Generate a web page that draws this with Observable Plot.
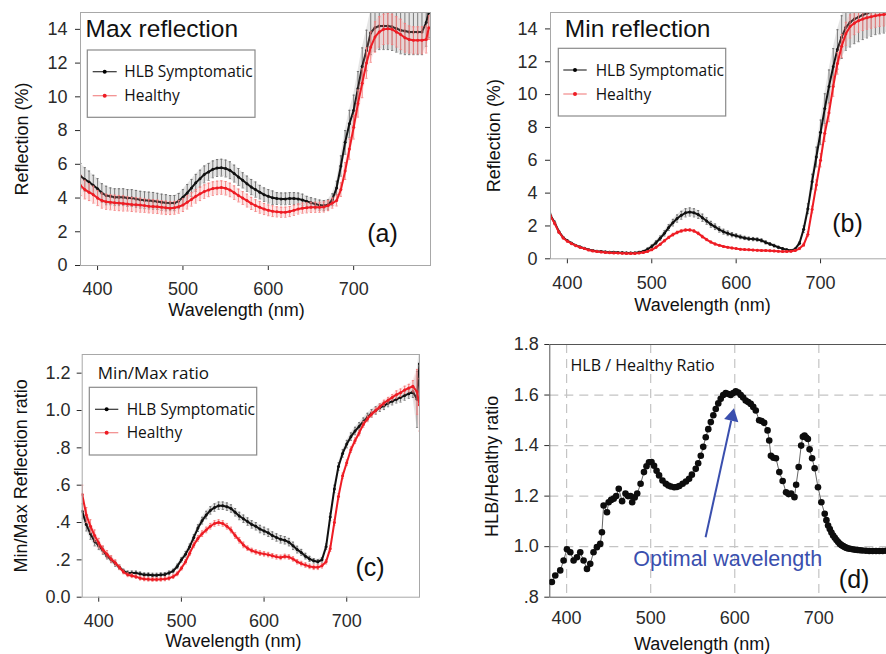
<!DOCTYPE html>
<html><head><meta charset="utf-8">
<script src="https://cdn.jsdelivr.net/npm/d3@7"></script>
<script src="https://cdn.jsdelivr.net/npm/@observablehq/plot@0.6"></script>
<style>
body{margin:0;background:#fff;}
#wrap{position:relative;width:886px;height:654px;overflow:hidden;background:#fff;}
</style></head><body><div id="wrap"></div>
<script>
// ---------------- DATA ----------------
const seriesNames = ["HLB Symptomatic", "Healthy"];
const xTickValues = [400, 500, 600, 700];
const reflTickValues = [0, 2, 4, 6, 8, 10, 12, 14];
const ratioTickValues = [0, 0.2, 0.4, 0.6, 0.8, 1.0, 1.2];
const ratioTickLabels = ["0.0", ".2", ".4", ".6", ".8", "1.0", "1.2"];
const dTickValues = [0.8, 1.0, 1.2, 1.4, 1.6, 1.8];
const dTickLabels = [".8", "1.0", "1.2", "1.4", "1.6", "1.8"];

const wavelengths = [
 380,385,390,395,400,405,410,415,420,425,
 430,435,440,445,450,455,460,465,470,475,
 480,485,490,495,500,505,510,515,520,525,
 530,535,540,545,550,555,560,565,570,575,
 580,585,590,595,600,605,610,615,620,625,
 630,635,640,645,650,655,660,665,670,675,
 680,685,690,695,700,705,710,715,720,725,
 730,735,740,745,750,755,760,765,770,775,
 780,785,788];

// (a) Max reflection (%)
const hlbMax = [
 5.3,5.1,4.95,4.75,4.55,4.3,4.15,4.1,4.05,4.05,
 4.05,4.0,4.0,3.95,3.9,3.87,3.85,3.83,3.8,3.75,
 3.72,3.7,3.7,3.82,4.05,4.3,4.6,4.9,5.15,5.4,
 5.55,5.7,5.78,5.8,5.75,5.65,5.45,5.25,5.05,4.85,
 4.65,4.5,4.35,4.2,4.1,4.02,3.97,3.95,3.95,3.97,
 3.97,3.95,3.88,3.8,3.72,3.65,3.58,3.55,3.6,3.9,
 4.6,5.9,7.3,8.4,9.2,10.5,11.8,12.75,13.8,14.1,
 14.2,14.2,14.2,14.15,14.05,13.95,13.9,13.85,13.85,13.85,
 13.85,14.4,15.0];
const hlbMaxErr = [
 0.75,0.7,0.65,0.6,0.6,0.55,0.55,0.5,0.5,0.5,
 0.5,0.5,0.5,0.5,0.5,0.5,0.5,0.5,0.48,0.48,
 0.48,0.45,0.45,0.45,0.45,0.5,0.5,0.5,0.5,0.5,
 0.5,0.5,0.5,0.5,0.5,0.5,0.5,0.5,0.45,0.45,
 0.45,0.45,0.4,0.4,0.4,0.4,0.35,0.35,0.35,0.35,
 0.35,0.35,0.35,0.3,0.3,0.3,0.3,0.3,0.3,0.35,
 0.4,0.6,0.7,0.8,0.9,1.0,1.1,1.2,1.3,1.4,
 1.4,1.4,1.4,1.4,1.4,1.4,1.4,1.35,1.35,1.35,
 1.35,1.4,1.5];
const healthyMax = [
 4.75,4.5,4.35,4.2,4.0,3.85,3.78,3.75,3.72,3.7,
 3.68,3.65,3.62,3.6,3.58,3.55,3.52,3.5,3.48,3.45,
 3.42,3.4,3.42,3.48,3.58,3.75,3.92,4.1,4.25,4.38,
 4.48,4.56,4.6,4.62,4.58,4.48,4.32,4.15,4.0,3.85,
 3.68,3.55,3.45,3.35,3.27,3.22,3.18,3.16,3.16,3.2,
 3.27,3.35,3.4,3.42,3.45,3.45,3.45,3.47,3.55,3.7,
 3.85,4.5,5.6,6.9,8.2,9.6,10.8,12.0,12.95,13.55,
 13.85,14.0,14.04,14.0,13.85,13.7,13.5,13.4,13.35,13.35,
 13.35,13.4,14.1];
const healthyMaxErr = [
 0.6,0.55,0.5,0.5,0.45,0.45,0.45,0.45,0.45,0.45,
 0.45,0.42,0.42,0.42,0.42,0.4,0.4,0.4,0.4,0.4,
 0.4,0.38,0.38,0.38,0.38,0.4,0.4,0.4,0.4,0.4,
 0.4,0.4,0.4,0.4,0.4,0.4,0.4,0.38,0.38,0.38,
 0.36,0.35,0.35,0.33,0.32,0.32,0.3,0.3,0.3,0.3,
 0.3,0.3,0.3,0.3,0.3,0.3,0.3,0.3,0.3,0.3,
 0.32,0.4,0.5,0.6,0.7,0.8,0.85,0.9,0.9,0.9,
 0.9,0.9,0.9,0.9,0.9,0.9,0.85,0.8,0.8,0.8,
 0.8,0.8,0.7];

// (b) Min reflection (%)
const hlbMin = [
 2.65,2.2,1.65,1.3,1.1,0.95,0.82,0.72,0.64,0.56,
 0.5,0.46,0.44,0.42,0.4,0.4,0.38,0.37,0.36,0.35,
 0.36,0.4,0.45,0.58,0.75,0.98,1.25,1.55,1.9,2.2,
 2.45,2.65,2.8,2.85,2.8,2.7,2.5,2.3,2.1,1.95,
 1.78,1.65,1.55,1.47,1.4,1.33,1.27,1.22,1.2,1.17,
 1.12,1.0,0.9,0.8,0.7,0.62,0.55,0.5,0.6,0.95,
 1.8,3.05,4.7,6.2,7.7,9.15,10.5,11.7,12.75,13.5,
 14.1,14.4,14.6,14.72,14.85,14.95,15.05,15.15,15.2,15.25,
 15.3,15.3,15.3];
const hlbMinErr = [
 0.12,0.1,0.08,0.06,0.05,0.05,0.05,0.05,0.05,0.05,
 0.05,0.05,0.05,0.05,0.05,0.05,0.05,0.05,0.05,0.05,
 0.05,0.05,0.06,0.08,0.1,0.12,0.14,0.16,0.18,0.2,
 0.22,0.24,0.25,0.25,0.25,0.24,0.22,0.2,0.18,0.17,
 0.16,0.15,0.14,0.13,0.12,0.11,0.1,0.1,0.1,0.1,
 0.1,0.1,0.09,0.08,0.07,0.06,0.05,0.05,0.06,0.1,
 0.2,0.3,0.45,0.6,0.75,0.9,1.0,1.1,1.2,1.3,
 1.4,1.5,1.5,1.5,1.5,1.5,1.5,1.5,1.5,1.5,
 1.5,1.5,1.5];
const healthyMin = [
 2.6,2.15,1.62,1.27,1.07,0.92,0.8,0.7,0.62,0.54,
 0.48,0.44,0.41,0.39,0.37,0.36,0.35,0.34,0.33,0.33,
 0.33,0.35,0.38,0.45,0.55,0.7,0.88,1.1,1.3,1.47,
 1.6,1.7,1.75,1.76,1.7,1.55,1.35,1.17,1.02,0.9,
 0.82,0.75,0.7,0.66,0.62,0.58,0.56,0.55,0.53,0.52,
 0.51,0.5,0.49,0.48,0.46,0.45,0.45,0.46,0.5,0.62,
 0.85,1.5,3.0,4.5,6.0,7.65,8.9,10.5,11.9,12.95,
 13.7,14.15,14.35,14.5,14.6,14.68,14.74,14.8,14.85,14.88,
 14.9,14.92,14.93];
const healthyMinErr = [
 0.1,0.08,0.06,0.05,0.04,0.04,0.04,0.04,0.04,0.04,
 0.04,0.04,0.04,0.04,0.04,0.04,0.04,0.04,0.04,0.04,
 0.04,0.04,0.04,0.04,0.05,0.06,0.06,0.07,0.07,0.08,
 0.08,0.08,0.08,0.08,0.08,0.08,0.08,0.07,0.06,0.06,
 0.05,0.05,0.05,0.05,0.05,0.05,0.05,0.05,0.05,0.05,
 0.05,0.05,0.05,0.05,0.05,0.05,0.05,0.05,0.05,0.06,
 0.1,0.15,0.2,0.3,0.4,0.5,0.55,0.6,0.65,0.7,
 0.7,0.7,0.7,0.7,0.7,0.7,0.7,0.7,0.7,0.7,
 0.7,0.7,0.7];

// (c) Min/Max reflection ratio
const hlbRatio = [
 0.46,0.39,0.34,0.3,0.275,0.25,0.22,0.2,0.18,0.16,
 0.14,0.13,0.13,0.13,0.125,0.12,0.12,0.118,0.118,0.12,
 0.122,0.13,0.14,0.165,0.2,0.23,0.27,0.32,0.37,0.41,
 0.44,0.465,0.48,0.49,0.49,0.485,0.475,0.455,0.435,0.42,
 0.405,0.39,0.38,0.365,0.355,0.345,0.33,0.32,0.31,0.305,
 0.295,0.275,0.255,0.24,0.22,0.205,0.195,0.19,0.2,0.27,
 0.43,0.58,0.7,0.77,0.82,0.86,0.89,0.915,0.94,0.965,
 0.985,1.0,1.015,1.025,1.04,1.05,1.06,1.07,1.08,1.09,
 1.1,1.06,1.25];
const hlbRatioErr = [
 0.04,0.035,0.03,0.025,0.02,0.02,0.015,0.015,0.015,0.012,
 0.01,0.01,0.01,0.01,0.01,0.01,0.01,0.01,0.01,0.01,
 0.01,0.01,0.01,0.012,0.012,0.015,0.015,0.015,0.018,0.018,
 0.02,0.02,0.02,0.02,0.02,0.02,0.02,0.02,0.02,0.02,
 0.02,0.02,0.02,0.02,0.02,0.02,0.02,0.02,0.02,0.02,
 0.02,0.02,0.018,0.016,0.015,0.014,0.012,0.012,0.012,0.015,
 0.02,0.02,0.02,0.02,0.02,0.02,0.02,0.02,0.02,0.02,
 0.02,0.02,0.02,0.02,0.02,0.02,0.02,0.025,0.025,0.025,
 0.03,0.15,0.08];
const healthyRatio = [
 0.55,0.44,0.38,0.33,0.29,0.255,0.23,0.205,0.185,0.16,
 0.135,0.12,0.115,0.11,0.102,0.098,0.096,0.095,0.095,0.096,
 0.098,0.102,0.11,0.125,0.155,0.19,0.235,0.28,0.315,0.34,
 0.36,0.38,0.395,0.4,0.395,0.38,0.36,0.33,0.305,0.28,
 0.262,0.25,0.242,0.236,0.232,0.228,0.222,0.216,0.213,0.218,
 0.215,0.205,0.19,0.18,0.172,0.165,0.16,0.16,0.168,0.19,
 0.26,0.4,0.54,0.65,0.72,0.79,0.838,0.88,0.925,0.955,
 0.98,1.0,1.02,1.04,1.055,1.07,1.085,1.095,1.11,1.12,
 1.13,1.1,1.03];
const healthyRatioErr = [
 0.05,0.04,0.035,0.03,0.025,0.02,0.02,0.018,0.015,0.012,
 0.01,0.01,0.01,0.01,0.01,0.01,0.01,0.01,0.01,0.01,
 0.01,0.01,0.01,0.01,0.01,0.012,0.012,0.015,0.015,0.015,
 0.015,0.015,0.015,0.015,0.015,0.015,0.015,0.015,0.015,0.015,
 0.012,0.012,0.012,0.012,0.012,0.012,0.012,0.012,0.012,0.012,
 0.012,0.012,0.012,0.012,0.012,0.012,0.012,0.012,0.012,0.012,
 0.015,0.015,0.015,0.015,0.015,0.015,0.015,0.015,0.015,0.015,
 0.015,0.015,0.015,0.015,0.015,0.015,0.02,0.02,0.02,0.02,
 0.03,0.12,0.14];

// (d) HLB / Healthy ratio
const ratioWavelengths = [
 382.5,386.5,392.4,396.4,400.4,404.4,408.3,412.3,416.2,420.2,
 424.2,428.1,432,436,440,442,444,448,450,453,
 456,459,462,466,470,473,476,478,481,484,
 488,492,495,498,501,504,507,510,514,518,
 521,524,528,531,534,538,542,545.7,549,553.6,
 556.5,559.6,562.5,565.5,568.5,571.5,574.5,577.4,580.4,583.3,
 586.3,589.3,592.2,595.2,598.2,601.2,604.2,607.1,610,613,
 616,619,622,625,629,632,635,639,641,643,
 646,649,653,657,661,664,667,671,673,676,
 679,681,683,685,687,689,692,695,699,703,
 707,709,711,713,715,717,719,721,723,725,
 727,729,731,733,735,737,740,743,746,749,
 752,756,760,764,768,772,776,780,784,788];
const hlbHealthyRatio = [
 0.86,0.886,0.906,0.945,0.99,0.978,0.945,0.958,0.978,0.945,
 0.912,0.932,0.978,0.998,1.011,1.057,1.163,1.136,1.176,1.185,
 1.19,1.2,1.229,1.18,1.21,1.2,1.2,1.176,1.195,1.21,
 1.249,1.295,1.318,1.334,1.335,1.32,1.3,1.282,1.262,1.249,
 1.242,1.238,1.235,1.236,1.24,1.249,1.258,1.269,1.285,1.308,
 1.33,1.36,1.395,1.433,1.465,1.493,1.52,1.545,1.567,1.585,
 1.6,1.608,1.604,1.6,1.608,1.615,1.61,1.6,1.59,1.578,
 1.572,1.565,1.553,1.539,1.5,1.497,1.49,1.46,1.42,1.36,
 1.352,1.35,1.295,1.26,1.215,1.208,1.21,1.196,1.245,1.315,
 1.4,1.435,1.44,1.432,1.426,1.385,1.35,1.31,1.235,1.176,
 1.13,1.105,1.084,1.07,1.056,1.044,1.035,1.026,1.018,1.011,
 1.006,1.002,0.998,0.995,0.993,0.992,0.99,0.988,0.987,0.986,
 0.985,0.984,0.983,0.983,0.983,0.983,0.983,0.984,0.985,0.99];

// annotation: arrow from label toward the optimal wavelength (data units: nm, ratio)
const arrowFrom = [565.3, 1.037];
const arrowTo = [595.8, 1.499];
const arrowHead = [596.9, 1.515];
const annotationText = "Optimal wavelength";
const annotationAt = [479.3, 0.925];

// ---------------- DRAWING ----------------
const FONT = '"Liberation Sans", Arial, Helvetica, sans-serif';
const LFONT = '"Open Sans", "Noto Sans", sans-serif';
const BLACK = "#111", RED = "#ee1c24", BLUE = "#3a4fae";
const wrap = document.getElementById("wrap");

const rows = (ys, es) => wavelengths.map((w, i) => ({w, y: ys[i], e: es[i]}));

function seriesMarks(data, color, barColor, bandColor) {
  const lo = d => d.y - d.e, hi = d => d.y + d.e;
  return [
    Plot.areaY(data, {x: "w", y1: lo, y2: hi, fill: bandColor, fillOpacity: 0.22, clip: true}),
    Plot.ruleX(data, {x: "w", y1: lo, y2: hi, stroke: barColor, strokeWidth: 0.9, clip: true}),
    Plot.link(data, {x1: d => d.w - 1.3, x2: d => d.w + 1.3, y1: hi, y2: hi, stroke: barColor, strokeWidth: 0.9, clip: true}),
    Plot.link(data, {x1: d => d.w - 1.3, x2: d => d.w + 1.3, y1: lo, y2: lo, stroke: barColor, strokeWidth: 0.9, clip: true}),
    Plot.line(data, {x: "w", y: "y", stroke: color, strokeWidth: 2, clip: true}),
    Plot.dot(data, {x: "w", y: "y", r: 1.5, fill: color, clip: true})
  ];
}

function place(svg, left, top) {
  svg.style.position = "absolute";
  svg.style.left = left + "px";
  svg.style.top = top + "px";
  wrap.appendChild(svg);
}

function spectrumPanel(c) {
  const svg = Plot.plot({
    width: c.width, height: c.height,
    marginLeft: c.ml, marginRight: c.mr, marginTop: c.mt, marginBottom: c.mb,
    style: {fontFamily: FONT, fontSize: "18px", color: "#2a2a2a", background: "transparent", overflow: "visible"},
    x: {domain: c.xDomain, ticks: xTickValues, tickSize: 5, tickPadding: 12, label: null, tickFormat: d => String(d)},
    y: {domain: c.yDomain, ticks: c.yTicks, tickSize: 5, tickPadding: c.yPad, label: null, tickFormat: c.yFormat},
    marks: [
      ...seriesMarks(c.black, BLACK, "#6e6e6e", "#888"),
      ...seriesMarks(c.red, RED, "#f47c7c", "#f59a9a"),
      Plot.frame({stroke: "#a8a8a8"}),
      Plot.text([c.title], {frameAnchor: "top-left", dx: c.titleDx, dy: c.titleDy, textAnchor: "start", lineAnchor: "bottom", fontSize: c.titleSize, fontFamily: c.titleFont, fill: "#111"}),
      Plot.text([c.tag], {frameAnchor: c.tagAnchor, dx: c.tagDx, dy: c.tagDy, textAnchor: "start", lineAnchor: "bottom", fontSize: 25, fill: "#111"}),
      Plot.text(["Wavelength (nm)"], {frameAnchor: "bottom", dx: c.xlDx, dy: c.xlDy, textAnchor: "middle", lineAnchor: "middle", fontSize: 18, fill: "#111"}),
      Plot.text([c.ylabel], {frameAnchor: "left", rotate: -90, dx: c.ylDx, dy: 0, textAnchor: "middle", lineAnchor: "middle", fontSize: 18, fill: "#111"})
    ]
  });
  place(svg, c.left, c.top);
}

const reflFmt = d => String(d);
const ratioFmt = d => ratioTickLabels[ratioTickValues.findIndex(v => Math.abs(v - d) < 1e-9)];
const dFmt = d => dTickLabels[dTickValues.findIndex(v => Math.abs(v - d) < 1e-9)];

// (a)
spectrumPanel({
  left: 0, top: 0, width: 440, height: 330, ml: 80, mr: 10, mt: 12, mb: 65,
  xDomain: [380, 790], yDomain: [0, 15], yTicks: reflTickValues, yFormat: reflFmt, yPad: 8,
  black: rows(hlbMax, hlbMaxErr), red: rows(healthyMax, healthyMaxErr),
  title: "Max reflection", titleDx: 5, titleDy: 24.7, titleSize: 24.5, titleFont: FONT,
  tag: "(a)", tagAnchor: "bottom-right", tagDx: -63.3, tagDy: -24,
  xlDx: -19, xlDy: 45, ylabel: "Reflection (%)", ylDx: -58.3
});
// (b)
spectrumPanel({
  left: 440, top: 0, width: 470, height: 330, ml: 110, mr: 14, mt: 12, mb: 71.7,
  xDomain: [380, 790], yDomain: [0, 15], yTicks: reflTickValues, yFormat: reflFmt, yPad: 8,
  black: rows(hlbMin, hlbMinErr), red: rows(healthyMin, healthyMinErr),
  title: "Min reflection", titleDx: 14.3, titleDy: 24, titleSize: 24.5, titleFont: FONT,
  tag: "(b)", tagAnchor: "bottom-left", tagDx: 281.7, tagDy: -26.3,
  xlDx: -21, xlDy: 46.7, ylabel: "Reflection (%)", ylDx: -56.7
});
// (c)
spectrumPanel({
  left: 0, top: 330, width: 440, height: 324, ml: 81.7, mr: 21, mt: 24, mb: 57.3,
  xDomain: [380, 788], yDomain: [0, 1.3], yTicks: ratioTickValues, yFormat: ratioFmt, yPad: 6.7,
  black: rows(hlbRatio, hlbRatioErr), red: rows(healthyRatio, healthyRatioErr),
  title: "Min/Max ratio", titleDx: 15.6, titleDy: 24, titleSize: 17, titleFont: LFONT,
  tag: "(c)", tagAnchor: "bottom-right", tagDx: -64, tagDy: -21.7,
  xlDx: -17.5, xlDy: 44, ylabel: "Min/Max Reflection ratio", ylDx: -61
});

// (d)
{
  const data = ratioWavelengths.map((w, i) => ({w, y: hlbHealthyRatio[i]}));
  const svg = Plot.plot({
    width: 470, height: 324, marginLeft: 109.3, marginRight: 16, marginTop: 14, marginBottom: 57.3,
    style: {fontFamily: FONT, fontSize: "18px", color: "#2a2a2a", background: "transparent", overflow: "visible"},
    x: {domain: [380, 790], ticks: xTickValues, tickSize: 0, tickPadding: 14, label: null, tickFormat: d => String(d)},
    y: {domain: [0.8, 1.8], ticks: dTickValues, tickSize: 5, tickPadding: 6, label: null, tickFormat: dFmt},
    marks: [
      Plot.ruleX(xTickValues, {stroke: "#c4c4c4", strokeWidth: 1.2, strokeDasharray: "9,6"}),
      Plot.ruleY([1.0, 1.2, 1.4, 1.6], {stroke: "#c4c4c4", strokeWidth: 1.2, strokeDasharray: "9,6"}),
      Plot.frame({stroke: "#555"}),
      Plot.line(data, {x: "w", y: "y", stroke: "#666", strokeWidth: 1, clip: true}),
      Plot.dot(data, {x: "w", y: "y", r: 3.3, fill: "#0d0d0d", clip: true}),
      Plot.link([arrowFrom], {x1: d => d[0], y1: d => d[1], x2: () => arrowTo[0], y2: () => arrowTo[1], stroke: BLUE, strokeWidth: 2}),
      Plot.dot([arrowHead], {x: d => d[0], y: d => d[1], symbol: "triangle", r: 5.4, fill: BLUE, rotate: 12.4}),
      Plot.text([annotationAt], {x: d => d[0], y: d => d[1], text: () => annotationText, textAnchor: "start", lineAnchor: "bottom", fontSize: 21.5, fill: BLUE}),
      Plot.text(["HLB / Healthy Ratio"], {frameAnchor: "top-left", dx: 20.7, dy: 26.5, textAnchor: "start", lineAnchor: "bottom", fontSize: 16, fontFamily: LFONT, fill: "#111"}),
      Plot.text(["(d)"], {frameAnchor: "bottom-left", dx: 289, dy: -9.7, textAnchor: "start", lineAnchor: "bottom", fontSize: 25, fill: "#111"}),
      Plot.text(["Wavelength (nm)"], {frameAnchor: "bottom", dx: -20, dy: 46.7, textAnchor: "middle", lineAnchor: "middle", fontSize: 18, fill: "#111"}),
      Plot.text(["HLB/Healthy ratio"], {frameAnchor: "left", rotate: -90, dx: -57.6, dy: -4.5, textAnchor: "middle", lineAnchor: "middle", fontSize: 18, fill: "#111"})
    ]
  });
  place(svg, 440, 330);
}

// legends (overlay)
{
  const legendLayout = [
    {x: 87.3, y: 50, w: 167.7, h: 67.3, l0: 92.7, l1: 116.7, tx: 124.3, r0: 71.7, r1: 95.7},
    {x: 558.3, y: 48.3, w: 167.4, h: 67.7, l0: 563.3, l1: 586.7, tx: 595.7, r0: 70, r1: 94},
    {x: 89.3, y: 387.3, w: 167.4, h: 67.7, l0: 95, l1: 118.3, tx: 126.7, r0: 409.3, r1: 432.7}
  ];
  const ns = "http://www.w3.org/2000/svg";
  const svg = document.createElementNS(ns, "svg");
  svg.setAttribute("width", 886); svg.setAttribute("height", 654);
  svg.style.position = "absolute"; svg.style.left = "0px"; svg.style.top = "0px";
  const el = (tag, attrs, text) => {
    const e = document.createElementNS(ns, tag);
    for (const k in attrs) e.setAttribute(k, attrs[k]);
    if (text) e.textContent = text;
    svg.appendChild(e);
    return e;
  };
  const sample = [{line: "#333", dot: "#000"}, {line: "#f28a8a", dot: RED}];
  for (const L of legendLayout) {
    el("rect", {x: L.x, y: L.y, width: L.w, height: L.h, fill: "#fff", stroke: "#8a8a8a", "stroke-width": 1.2});
    [L.r0, L.r1].forEach((ry, i) => {
      el("line", {x1: L.l0, x2: L.l1, y1: ry, y2: ry, stroke: sample[i].line, "stroke-width": 1.2});
      el("circle", {cx: (L.l0 + L.l1) / 2, cy: ry, r: 2, fill: sample[i].dot});
      el("text", {x: L.tx, y: ry + 5.6, "font-family": LFONT, "font-size": 15.5, fill: "#111"}, seriesNames[i]);
    });
  }
  wrap.appendChild(svg);
}
</script></body></html>
